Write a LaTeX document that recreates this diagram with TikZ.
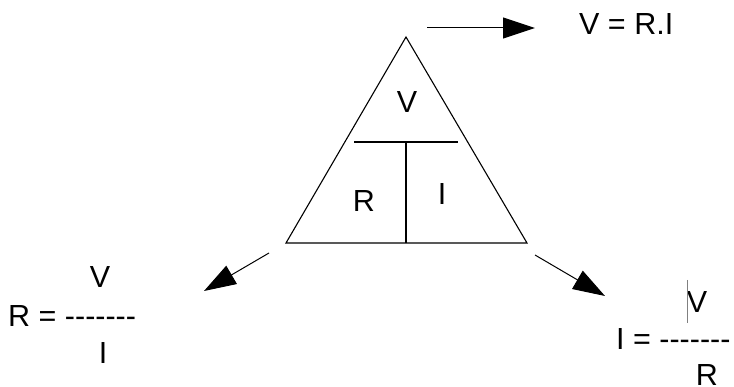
\documentclass[tikz,border=0pt]{standalone}
\usepackage{fontspec}
\newfontfamily\af{Liberation Sans}
\usetikzlibrary{arrows.meta}
\begin{document}
\begin{tikzpicture}[x=1pt,y=-1pt,
  txt/.style={inner sep=0pt, font=\af\fontsize{30.5}{36}\selectfont},
  ln/.style={line width=1.1pt, black},
  arr/.style={line width=1pt, -{Triangle[length=32pt,width=21pt]}}]
\useasboundingbox (0,0) rectangle (734,387);
% triangle
\coordinate (apex) at (406,37);
\coordinate (bl) at (286,243);
\coordinate (br) at (527,243);
\coordinate (hl) at (354,142);
\coordinate (hr) at (458,142);
\coordinate (hm) at (406,142);
\coordinate (bm) at (406,243);
\draw[ln, line join=miter] (apex) -- (bl) -- (br) -- cycle;
\draw[ln] (hl) -- (hr);
\draw[ln] (hm) -- (bm);
\node[txt, anchor=base] (tv) at (407,113) {V};
\node[txt, anchor=base] (tr) at (364,212) {R};
\node[txt, anchor=base] (ti) at (442,205) {I};
% arrows
\coordinate (a1s) at (427,28);
\coordinate (a1e) at (535,28);
\coordinate (a2s) at (269,253);
\coordinate (a2e) at (204,291);
\coordinate (a3s) at (535,255);
\coordinate (a3e) at (605,296);
\draw[arr] (a1s) -- (a1e);
\draw[arr] (a2s) -- (a2e);
\draw[arr] (a3s) -- (a3e);
% formulas
\node[txt, anchor=base west] (f1) at (579,35) {V = R.I};
\node[txt, anchor=base] (f2n) at (100,288) {V};
\node[txt, anchor=base west] (f2) at (8,327) {R = -{}-{}-{}-{}-{}-{}-};
\node[txt, anchor=base] (f2d) at (103,363) {I};
\node[txt, anchor=base] (f3n) at (697,313) {V};
\node[txt, anchor=base west] (f3) at (616,350) {I = -{}-{}-{}-{}-{}-{}-};
\node[txt, anchor=base] (f3d) at (707,385) {R};
\coordinate (c1) at (687,280);
\coordinate (c2) at (687,323);
\draw[gray, line width=0.8pt] (c1) -- (c2);
\end{tikzpicture}
\end{document}
